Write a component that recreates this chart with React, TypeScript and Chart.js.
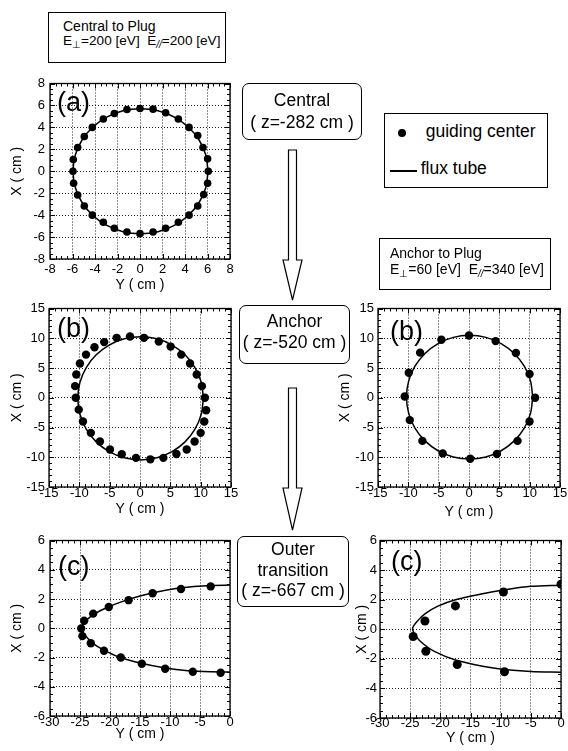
import React, { useEffect, useRef } from 'react';
import { Chart, registerables } from 'chart.js';

Chart.register(...registerables);

const FONT = '"Liberation Sans", Arial, Helvetica, sans-serif';
Chart.defaults.font.family = FONT;
Chart.defaults.color = '#000';

// ---------- tick labels ----------
const ticksA = [-8, -6, -4, -2, 0, 2, 4, 6, 8];
const ticksB = [-15, -10, -5, 0, 5, 10, 15];
const ticksCx = [-30, -25, -20, -15, -10, -5, 0];
const ticksCy = [-6, -4, -2, 0, 2, 4, 6];

// ---------- panel (a) Central ----------
const gcA: [number, number][] = [
  [6.07, 0], [6.01, 1.13], [5.6, 2.16], [5.13, 3.26], [4.36, 4.0], [3.41, 4.77], [2.28, 5.33], [1.16, 5.66],
  [0, 5.72], [-1.16, 5.63], [-2.28, 5.27], [-3.26, 4.77], [-4.24, 4.0], [-4.95, 3.17], [-5.54, 2.16], [-5.93, 1.07],
  [-5.96, 0], [-5.9, -1.1], [-5.54, -2.16], [-4.95, -3.17], [-4.24, -4.0], [-3.26, -4.65], [-2.28, -5.19], [-1.16, -5.54],
  [0, -5.69], [1.16, -5.54], [2.28, -5.19], [3.41, -4.65], [4.36, -4.0], [5.13, -3.17], [5.66, -2.13], [6.01, -1.1],
];
const fluxA: [number, number][] = [
  [6.05, 0], [5.85, 1.48], [5.25, 2.85], [4.29, 4.03], [3.05, 4.94], [1.6, 5.51], [0.05, 5.7], [-1.5, 5.51],
  [-2.95, 4.94], [-4.19, 4.03], [-5.15, 2.85], [-5.75, 1.48], [-5.95, 0], [-5.75, -1.48], [-5.15, -2.85], [-4.19, -4.03],
  [-2.95, -4.94], [-1.5, -5.51], [0.05, -5.7], [1.6, -5.51], [3.05, -4.94], [4.29, -4.03], [5.25, -2.85], [5.85, -1.48],
  [6.05, 0],
];

// ---------- panel (b) Anchor, central-to-plug ----------
const gcBL: [number, number][] = [
  [0.66, 10.07], [-1.65, 10.3], [-3.85, 10.07], [-5.9, 9.35], [-7.5, 8.5], [-8.9, 7.25], [-9.9, 5.75], [-10.5, 3.9],
  [-10.7, 1.95], [-10.6, 0], [-10.1, -2.0], [-9.4, -4.0], [-8.1, -5.9], [-6.6, -7.35], [-4.95, -8.7], [-3.0, -9.5],
  [-0.66, -10.1], [1.7, -10.35], [3.85, -10.1], [6.0, -9.45], [7.7, -8.7], [9.0, -7.35], [10.0, -5.9], [10.6, -4.0],
  [10.9, -2.1], [10.7, 0], [10.2, 1.95], [9.35, 3.9], [8.25, 5.75], [6.8, 7.25], [5.05, 8.6], [3.1, 9.45],
];
const fluxBL: [number, number][] = [
  [10.45, -0.1], [10.1, 2.58], [9.06, 5.08], [7.42, 7.22], [5.28, 8.86], [2.78, 9.9], [0.1, 10.25], [-2.58, 9.9],
  [-5.08, 8.86], [-7.22, 7.22], [-8.86, 5.08], [-9.9, 2.58], [-10.25, -0.1], [-9.9, -2.78], [-8.86, -5.28], [-7.22, -7.42],
  [-5.08, -9.06], [-2.58, -10.1], [0.1, -10.45], [2.78, -10.1], [5.28, -9.06], [7.42, -7.42], [9.06, -5.28], [10.1, -2.78],
  [10.45, -0.1],
];

// ---------- panel (b) Anchor, anchor-to-plug ----------
const gcBR: [number, number][] = [
  [0, 10.46], [4.39, 9.52], [7.73, 7.53], [9.98, 3.98], [10.9, 0], [9.98, -3.98], [8.0, -7.25], [4.6, -9.46],
  [0.2, -10.24], [-4.33, -9.35], [-7.68, -7.25], [-9.76, -3.76], [-10.6, 0.2], [-9.93, 4.2], [-8.06, 7.58], [-4.55, 9.74],
];
const fluxBR: [number, number][] = [
  [10.5, 0.1], [10.15, 2.79], [9.11, 5.3], [7.45, 7.45], [5.3, 9.11], [2.79, 10.15], [0.1, 10.5], [-2.59, 10.15],
  [-5.1, 9.11], [-7.25, 7.45], [-8.91, 5.3], [-9.95, 2.79], [-10.3, 0.1], [-9.95, -2.59], [-8.91, -5.1], [-7.25, -7.25],
  [-5.1, -8.91], [-2.59, -9.95], [0.1, -10.3], [2.79, -9.95], [5.3, -8.91], [7.45, -7.25], [9.11, -5.1], [10.15, -2.59],
  [10.5, 0.1],
];

// ---------- panel (c) Outer transition, central-to-plug ----------
const gcCL: [number, number][] = [
  [-3.22, 2.86], [-8.17, 2.68], [-12.9, 2.39], [-16.9, 1.92], [-20.2, 1.45], [-22.8, 1.0], [-24.3, 0.51], [-24.8, -0.02],
  [-24.6, -0.54], [-23.2, -1.03], [-21.0, -1.54], [-18.2, -2.0], [-14.7, -2.43], [-10.8, -2.77], [-6.2, -2.97], [-1.56, -3.04],
];
const fluxCL: [number, number][] = [
  [0, 2.95], [-3, 2.93], [-6, 2.86], [-9, 2.72], [-12, 2.5], [-15, 2.2], [-18, 1.82], [-20.5, 1.42], [-22.5, 1.0],
  [-23.8, 0.6], [-24.6, 0.2], [-24.9, 0], [-24.6, -0.25], [-23.9, -0.6], [-22.8, -1.05], [-21, -1.5], [-18.5, -1.97],
  [-15, -2.38], [-11, -2.7], [-7, -2.9], [-3, -2.98], [0, -3.0],
];

// ---------- panel (c) Outer transition, anchor-to-plug ----------
const gcCR: [number, number][] = [
  [0, 3.05], [-9.54, 2.52], [-17.5, 1.58], [-22.55, 0.56], [-24.5, -0.49], [-22.4, -1.49], [-17.2, -2.38], [-9.37, -2.87],
];
const fluxCR: [number, number][] = [
  [0, 2.98], [-5, 2.9], [-9.5, 2.65], [-13, 2.4], [-17.5, 2.0], [-20.5, 1.55], [-22.5, 1.05], [-23.8, 0.55], [-24.6, 0.05],
  [-24.0, -0.5], [-22.8, -1.0], [-21, -1.5], [-17.5, -2.08], [-13, -2.5], [-9.4, -2.72], [-5, -2.85], [0, -2.9],
];

type Spec = {
  L: number; T: number; W: number; H: number;
  xTicks: number[]; yTicks: number[]; xMinor: number; yMinor: number;
  dots: [number, number][]; flux: [number, number][]; dotR: number;
  label: string; ldx: number; ldy: number;
  yW: number; xH: number; xPad: number; yPad: number;
};

const PAD_TOP = 8;
const PAD_RIGHT = 10;

function makeFrame(s: Spec) {
  return {
    id: 'frame',
    afterDraw(chart: any) {
      const { ctx, chartArea: a, scales } = chart;
      const xs = scales.x, ys = scales.y;
      ctx.save();
      ctx.strokeStyle = '#000';
      ctx.lineWidth = 1.3;
      ctx.strokeRect(a.left, a.top, a.right - a.left, a.bottom - a.top);
      ctx.lineWidth = 1;
      const nx = Math.round((xs.max - xs.min) / s.xMinor);
      for (let i = 0; i <= nx; i++) {
        const v = xs.min + i * s.xMinor;
        const p = Math.round(xs.getPixelForValue(v)) + 0.5;
        const major = s.xTicks.some((t) => Math.abs(t - v) < 1e-6);
        const len = major ? 5 : 3;
        ctx.beginPath();
        ctx.moveTo(p, a.bottom); ctx.lineTo(p, a.bottom - len);
        ctx.moveTo(p, a.top); ctx.lineTo(p, a.top + len);
        ctx.stroke();
      }
      const ny = Math.round((ys.max - ys.min) / s.yMinor);
      for (let i = 0; i <= ny; i++) {
        const v = ys.min + i * s.yMinor;
        const p = Math.round(ys.getPixelForValue(v)) + 0.5;
        const major = s.yTicks.some((t) => Math.abs(t - v) < 1e-6);
        const len = major ? 5 : 3;
        ctx.beginPath();
        ctx.moveTo(a.left, p); ctx.lineTo(a.left + len, p);
        ctx.moveTo(a.right, p); ctx.lineTo(a.right - len, p);
        ctx.stroke();
      }
      ctx.fillStyle = '#000';
      ctx.font = `27px ${FONT}`;
      ctx.textAlign = 'left';
      ctx.textBaseline = 'alphabetic';
      ctx.fillText(s.label, a.left + s.ldx, a.top + s.ldy);
      ctx.restore();
    },
  };
}

function Panel({ s }: { s: Spec }) {
  const ref = useRef<HTMLCanvasElement>(null);
  const cw = s.yW + s.W + PAD_RIGHT;
  const ch = PAD_TOP + s.H + s.xH;
  useEffect(() => {
    if (!ref.current) return;
    const tickFont = { family: FONT, size: 13, lineHeight: 1 };
    const titleFont = { family: FONT, size: 14 };
    const chart = new Chart(ref.current, {
      type: 'scatter',
      data: {
        datasets: [
          {
            label: 'flux tube',
            data: s.flux.map(([x, y]) => ({ x, y })),
            showLine: true,
            borderColor: '#000',
            borderWidth: 1.5,
            pointRadius: 0,
            tension: 0.3,
            fill: false,
          } as any,
          {
            label: 'guiding center',
            data: s.dots.map(([x, y]) => ({ x, y })),
            showLine: false,
            pointRadius: s.dotR,
            pointBackgroundColor: '#000',
            pointBorderColor: '#000',
            pointBorderWidth: 0,
            backgroundColor: '#000',
          } as any,
        ],
      },
      options: {
        responsive: false,
        animation: false,
        devicePixelRatio: 1,
        events: [],
        layout: { padding: { left: 0, top: PAD_TOP, right: PAD_RIGHT, bottom: 0 } },
        plugins: { legend: { display: false }, tooltip: { enabled: false } },
        scales: {
          x: {
            type: 'linear',
            min: s.xTicks[0],
            max: s.xTicks[s.xTicks.length - 1],
            afterBuildTicks: (sc: any) => { sc.ticks = s.xTicks.map((v) => ({ value: v })); },
            afterFit: (sc: any) => { sc.height = s.xH; },
            ticks: { font: tickFont, color: '#000', padding: s.xPad, autoSkip: false, maxRotation: 0, callback: (v: any) => String(v) },
            grid: { color: '#222', lineWidth: 1, drawTicks: false },
            border: { display: false, dash: [1, 2] },
            title: { display: true, text: 'Y ( cm )', font: titleFont, color: '#000', padding: 0 },
          } as any,
          y: {
            type: 'linear',
            min: s.yTicks[0],
            max: s.yTicks[s.yTicks.length - 1],
            afterBuildTicks: (sc: any) => { sc.ticks = s.yTicks.map((v) => ({ value: v })); },
            afterFit: (sc: any) => { sc.width = s.yW; },
            ticks: { font: tickFont, color: '#000', padding: s.yPad, autoSkip: false, callback: (v: any) => String(v) },
            grid: { color: '#222', lineWidth: 1, drawTicks: false },
            border: { display: false, dash: [1, 2] },
            title: { display: true, text: 'X ( cm )', font: titleFont, color: '#000', padding: 0 },
          } as any,
        },
      },
      plugins: [makeFrame(s)],
    });
    return () => chart.destroy();
  }, []);
  return (
    <canvas
      ref={ref}
      width={cw}
      height={ch}
      style={{ position: 'absolute', left: s.L - s.yW, top: s.T - PAD_TOP, width: cw, height: ch }}
    />
  );
}

const panels: Spec[] = [
  { L: 50, T: 80, W: 180, H: 179, xTicks: ticksA, yTicks: ticksA, xMinor: 0.5, yMinor: 0.5, dots: gcA, flux: fluxA, dotR: 3.8,
    label: '(a)', ldx: 7, ldy: 27.5, yW: 41, xH: 35, xPad: 4, yPad: 5 },
  { L: 49, T: 306, W: 182, H: 181, xTicks: ticksB, yTicks: ticksB, xMinor: 1, yMinor: 1, dots: gcBL, flux: fluxBL, dotR: 4.2,
    label: '(b)', ldx: 8, ldy: 28.5, yW: 40, xH: 31, xPad: 0, yPad: 4 },
  { L: 378, T: 306, W: 182, H: 181, xTicks: ticksB, yTicks: ticksB, xMinor: 1, yMinor: 1, dots: gcBR, flux: fluxBR, dotR: 4.2,
    label: '(b)', ldx: 12, ldy: 31, yW: 41, xH: 34, xPad: 0, yPad: 4 },
  { L: 50, T: 537, W: 180, H: 179, xTicks: ticksCx, yTicks: ticksCy, xMinor: 1, yMinor: 0.5, dots: gcCL, flux: fluxCL, dotR: 4.2,
    label: '(c)', ldx: 8, ldy: 34, yW: 41, xH: 27, xPad: 0, yPad: 5 },
  { L: 380, T: 539, W: 181, H: 179, xTicks: ticksCx, yTicks: ticksCy, xMinor: 1, yMinor: 0.5, dots: gcCR, flux: fluxCR, dotR: 4.5,
    label: '(c)', ldx: 11, ldy: 29.5, yW: 26, xH: 29, xPad: -1, yPad: 3 },
];

function Txt({ x, y, size, center, children }: { x: number; y: number; size: number; center?: boolean; children: any }) {
  const style: any = {
    position: 'absolute',
    top: y - 0.8465 * size,
    fontSize: size,
    lineHeight: size + 'px',
    whiteSpace: 'pre',
    fontFamily: FONT,
    color: '#000',
  };
  if (center) { style.left = x - 150; style.width = 300; style.textAlign = 'center'; } else { style.left = x; }
  return <div style={style}>{children}</div>;
}

function Box({ l, t, w, h, r }: { l: number; t: number; w: number; h: number; r?: number }) {
  return (
    <div style={{ position: 'absolute', left: l, top: t, width: w, height: h, border: '1.5px solid #000',
      borderRadius: r || 0, boxSizing: 'border-box', background: '#fff' }} />
  );
}

function Sub({ children, italic }: { children: any; italic?: boolean }) {
  return (
    <span style={{ fontSize: 10, position: 'relative', top: 3, fontStyle: italic ? 'italic' : 'normal' }}>{children}</span>
  );
}

function Arrow({ top, base, tip }: { top: number; base: number; tip: number }) {
  const c = 292.5, sh = 4, hh = 9.5;
  const pts = [[c - sh, top], [c + sh, top], [c + sh, base], [c + hh, base], [c, tip], [c - hh, base], [c - sh, base]]
    .map((p) => p.join(',')).join(' ');
  return <polygon points={pts} fill="#fff" stroke="#000" strokeWidth={1.2} />;
}

export default function App() {
  return (
    <div style={{ position: 'absolute', left: 0, top: 0, width: 568, height: 751, background: '#fff', overflow: 'hidden' }}>
      {panels.map((s, i) => <Panel key={i} s={s} />)}

      <svg width={568} height={751} style={{ position: 'absolute', left: 0, top: 0, pointerEvents: 'none' }}>
        <Arrow top={150} base={260} tip={300} />
        <Arrow top={388} base={488} tip={530} />
      </svg>

      {/* Central to Plug */}
      <Box l={48} t={12} w={178} h={51} />
      <Txt x={63} y={30.7} size={14}>Central to Plug</Txt>
      <Txt x={63} y={46} size={13.6}>E<Sub>⊥</Sub>=200 [eV]  E<Sub italic>//</Sub>=200 [eV]</Txt>

      {/* Central */}
      <Box l={242} t={83} w={120} h={57} r={7} />
      <Txt x={302} y={106.5} size={17.5} center>Central</Txt>
      <Txt x={302} y={129} size={17.5} center>( z=-282 cm )</Txt>

      {/* Legend */}
      <Box l={384} t={113} w={164} h={75} />
      <div style={{ position: 'absolute', left: 398.3, top: 129.3, width: 8, height: 8, borderRadius: 4, background: '#000' }} />
      <Txt x={425.7} y={137.7} size={17.5}>guiding center</Txt>
      <div style={{ position: 'absolute', left: 390, top: 170, width: 27, height: 2, background: '#000' }} />
      <Txt x={420.7} y={175} size={17.5}>flux tube</Txt>

      {/* Anchor to Plug */}
      <Box l={379} t={238} w={172} h={52} />
      <Txt x={390} y={258} size={14}>Anchor to Plug</Txt>
      <Txt x={390} y={274} size={14}>E<Sub>⊥</Sub>=60 [eV]  E<Sub italic>//</Sub>=340 [eV]</Txt>

      {/* Anchor */}
      <Box l={239} t={305} w={111} h={59} r={7} />
      <Txt x={294.5} y={327.5} size={17.5} center>Anchor</Txt>
      <Txt x={294.5} y={349} size={17.5} center>( z=-520 cm )</Txt>

      {/* Outer transition */}
      <Box l={237} t={536} w={112} h={71} r={7} />
      <Txt x={293} y={556} size={17.5} center>Outer</Txt>
      <Txt x={293} y={576.5} size={17.5} center>transition</Txt>
      <Txt x={293} y={597} size={17.5} center>( z=-667 cm )</Txt>
    </div>
  );
}
